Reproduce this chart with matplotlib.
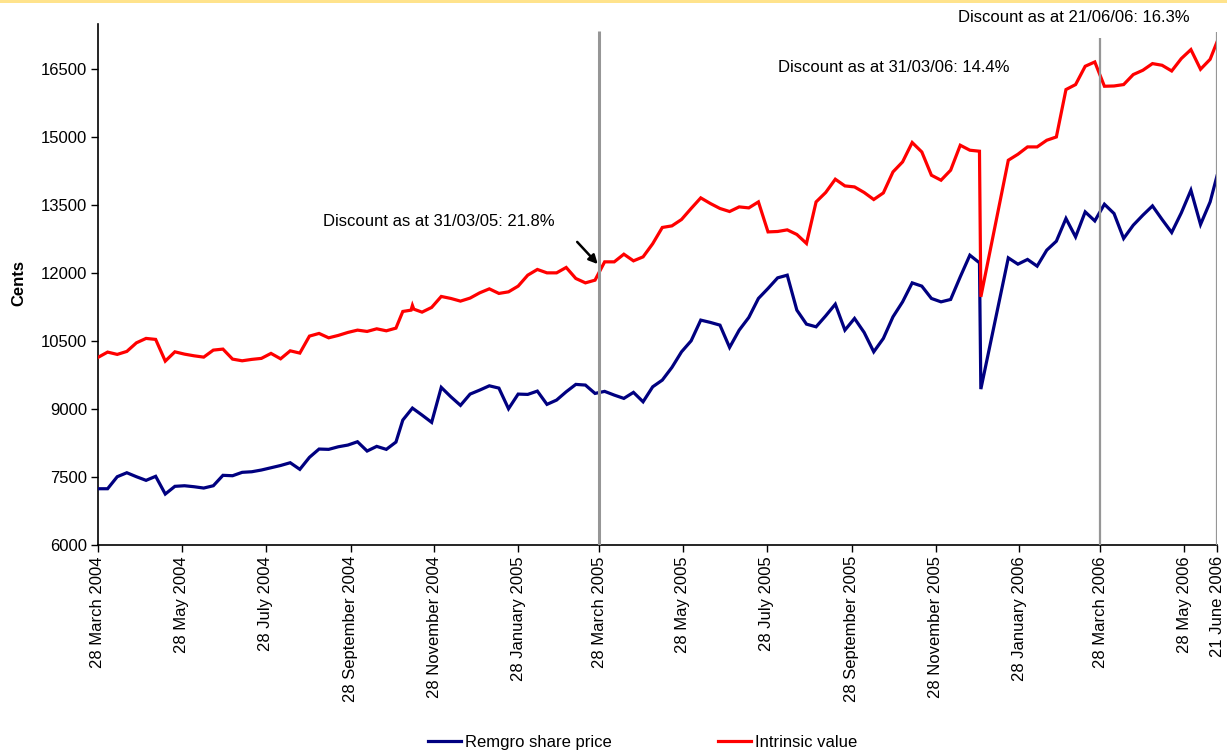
import matplotlib
matplotlib.use('Agg')
import matplotlib.pyplot as plt
import numpy as np
import pandas as pd
from matplotlib.patches import Rectangle

plt.rcParams['font.family'] = ['Liberation Sans', 'DejaVu Sans']

# ---------------- data ----------------
dates = [
    '2004-03-28', '2004-04-04', '2004-04-11', '2004-04-18', '2004-04-25', '2004-05-02', '2004-05-09',
    '2004-05-16', '2004-05-23', '2004-05-30', '2004-06-06', '2004-06-13', '2004-06-20', '2004-06-27',
    '2004-07-04', '2004-07-11', '2004-07-18', '2004-07-25', '2004-08-01', '2004-08-08', '2004-08-15',
    '2004-08-22', '2004-08-29', '2004-09-05', '2004-09-12', '2004-09-19', '2004-09-26', '2004-10-03',
    '2004-10-10', '2004-10-17', '2004-10-24', '2004-10-31',
    '2004-11-05', '2004-11-11', '2004-11-12', '2004-11-13', '2004-11-19', '2004-11-26',
    '2004-12-03', '2004-12-10', '2004-12-17', '2004-12-24', '2004-12-31',
    '2005-01-07', '2005-01-14', '2005-01-21', '2005-01-28', '2005-02-04', '2005-02-11', '2005-02-18',
    '2005-02-25', '2005-03-04', '2005-03-11', '2005-03-18', '2005-03-25', '2005-04-01', '2005-04-08',
    '2005-04-15', '2005-04-22', '2005-04-29', '2005-05-06', '2005-05-13', '2005-05-20', '2005-05-27',
    '2005-06-03', '2005-06-10', '2005-06-17', '2005-06-24', '2005-07-01', '2005-07-08', '2005-07-15',
    '2005-07-22', '2005-07-29', '2005-08-05', '2005-08-12', '2005-08-19', '2005-08-26', '2005-09-02',
    '2005-09-09', '2005-09-16', '2005-09-23', '2005-09-30', '2005-10-07', '2005-10-14', '2005-10-21',
    '2005-10-28', '2005-11-04', '2005-11-11', '2005-11-18', '2005-11-25', '2005-12-02', '2005-12-09',
    '2005-12-16', '2005-12-23', '2005-12-30', '2005-12-31',
    '2006-01-20', '2006-01-27', '2006-02-03', '2006-02-10', '2006-02-17', '2006-02-24', '2006-03-03',
    '2006-03-10', '2006-03-17', '2006-03-24', '2006-03-31', '2006-04-07', '2006-04-14', '2006-04-21',
    '2006-04-28', '2006-05-05', '2006-05-12', '2006-05-19', '2006-05-26', '2006-06-02', '2006-06-09',
    '2006-06-16', '2006-06-21',
]

intrinsic_value = [
    10141, 10258, 10207, 10273, 10463, 10560, 10538,
    10059, 10264, 10213, 10176, 10147, 10302, 10324,
    10103, 10066, 10097, 10119, 10229, 10110, 10286,
    10236, 10611, 10670, 10573, 10626, 10692, 10743,
    10714, 10772, 10728, 10787,
    11155, 11184, 11288, 11206, 11140, 11244,
    11486, 11442, 11383, 11450, 11566,
    11654, 11553, 11588, 11714, 11956, 12082, 12007,
    12007, 12126, 11883, 11786, 11846, 12250, 12250,
    12419, 12272, 12360, 12650, 13009, 13044, 13185,
    13428, 13662, 13538, 13428, 13361, 13463, 13441,
    13573, 12911, 12920, 12956, 12854, 12656, 13573,
    13781, 14074, 13926, 13904, 13781, 13626, 13772,
    14235, 14456, 14884, 14676, 14162, 14052, 14273,
    14824, 14714, 14692, 11477,
    14493, 14625, 14787, 14787, 14934, 15007, 16053,
    16163, 16567, 16662, 16126, 16132, 16163, 16384,
    16479, 16626, 16589, 16463, 16737, 16935, 16501,
    16721, 17103,
]

share_price = [
    7242, 7242, 7507, 7595, 7507, 7427, 7516,
    7125, 7295, 7308, 7286, 7257, 7308, 7538,
    7529, 7604, 7617, 7655, 7705, 7755, 7816,
    7670, 7935, 8118, 8111, 8168, 8206, 8279,
    8074, 8177, 8111, 8272,
    8758, np.nan, 9022, np.nan, 8868, 8707,
    9479, 9271, 9082, 9331, 9419,
    9514, 9463, 9007, 9331, 9324, 9397, 9104,
    9199, 9382, 9545, 9530, 9346, 9391, 9309,
    9236, 9369, 9161, 9492, 9640, 9920, 10264,
    10507, 10964, 10913, 10853, 10361, 10743, 11023,
    11442, 11663, 11897, 11956, 11184, 10875, 10816,
    11058, 11316, 10743, 11001, 10692, 10264, 10560,
    11036, 11367, 11786, 11714, 11442, 11367, 11420,
    11919, 12397, 12228, 9441,
    12338, 12199, 12303, 12155, 12508, 12706, 13207,
    12801, 13353, 13154, 13522, 13317, 12766, 13059,
    13280, 13485, 13185, 12898, 13331, 13831, 13075,
    13573, 14147,
]

tick_dates = ['2004-03-28', '2004-05-28', '2004-07-28', '2004-09-28', '2004-11-28', '2005-01-28',
              '2005-03-28', '2005-05-28', '2005-07-28', '2005-09-28', '2005-11-28', '2006-01-28',
              '2006-03-28', '2006-05-28', '2006-06-21']
tick_labels = ['28 March 2004', '28 May 2004', '28 July 2004', '28 September 2004',
               '28 November 2004', '28 January 2005', '28 March 2005', '28 May 2005',
               '28 July 2005', '28 September 2005', '28 November 2005', '28 January 2006',
               '28 March 2006', '28 May 2006', '21 June 2006']
y_ticks = [6000, 7500, 9000, 10500, 12000, 13500, 15000, 16500]

marker_dates = ['2005-03-28', '2006-03-28', '2006-06-21']
marker_tops = [17350, 17200, 17320]

notes = ['Discount as at 31/03/05: 21.8%', 'Discount as at 31/03/06: 14.4%',
         'Discount as at 21/06/06: 16.3%']

# ---------------- figure ----------------
W, H = 1227, 752
FS = 12
fig = plt.figure(figsize=(W / 100, H / 100), dpi=100)
fig.patch.set_facecolor('white')
ax = fig.add_axes([98 / W, 1 - 545 / H, (1217 - 98) / W, (545 - 24) / H])

x = pd.to_datetime(dates)
sp = np.array(share_price, dtype=float)
iv = np.array(intrinsic_value, dtype=float)
m = ~np.isnan(sp)

ax.plot(x[m], sp[m], color='#000080', lw=2.3, solid_joinstyle='miter', label='Remgro share price', zorder=3)
ax.plot(x, iv, color='#FF0000', lw=2.3, solid_joinstyle='miter', label='Intrinsic value', zorder=3)

for d, top, lw in zip(pd.to_datetime(marker_dates), marker_tops, [2.2, 1.6, 1.6]):
    ax.plot([d, d], [6000, top], color='#969696', lw=lw, zorder=4, solid_capstyle='butt')

ax.set_xlim(pd.Timestamp('2004-03-28'), pd.Timestamp('2006-06-21'))
ax.set_ylim(6000, 17500)
ax.set_yticks(y_ticks)
ax.set_yticklabels([str(v) for v in y_ticks], fontsize=FS)
ax.set_xticks(pd.to_datetime(tick_dates))
ax.set_xticklabels(tick_labels, rotation=90, fontsize=FS, va='top', ha='center')
ax.tick_params(axis='both', direction='out', length=5, width=1, color='black', pad=3)

for s in ['top', 'right']:
    ax.spines[s].set_visible(False)
for s in ['left', 'bottom']:
    ax.spines[s].set_linewidth(1.2)
    ax.spines[s].set_color('black')

ax.set_ylabel('Cents', fontsize=FS, fontweight='bold')
ax.yaxis.set_label_coords(-0.064, 0.503)

# annotations
fig.text(323 / W, 1 - 222 / H, notes[0], fontsize=FS, ha='left', va='center')
fig.text(778 / W, 1 - 67 / H, notes[1], fontsize=FS, ha='left', va='center')
fig.text(958 / W, 1 - 18 / H, notes[2], fontsize=FS, ha='left', va='center')

ax.annotate('', xy=(pd.Timestamp('2005-03-27'), 12200), xytext=(pd.Timestamp('2005-03-12'), 12690),
            arrowprops=dict(arrowstyle='-|>', color='black', lw=1.8, mutation_scale=13,
                            shrinkA=0, shrinkB=0), zorder=5)

leg = fig.legend(loc='center', bbox_to_anchor=(0.5237, 0.013), ncol=2, frameon=False,
                 fontsize=FS, handlelength=2.0, handletextpad=0.25, columnspacing=6.35)

# top yellow band
fig.patches.append(Rectangle((0, 1 - 3 / H), 1, 3 / H, transform=fig.transFigure,
                             facecolor='#FFE38C', edgecolor='none'))

fig.savefig('out.png', dpi=100)
